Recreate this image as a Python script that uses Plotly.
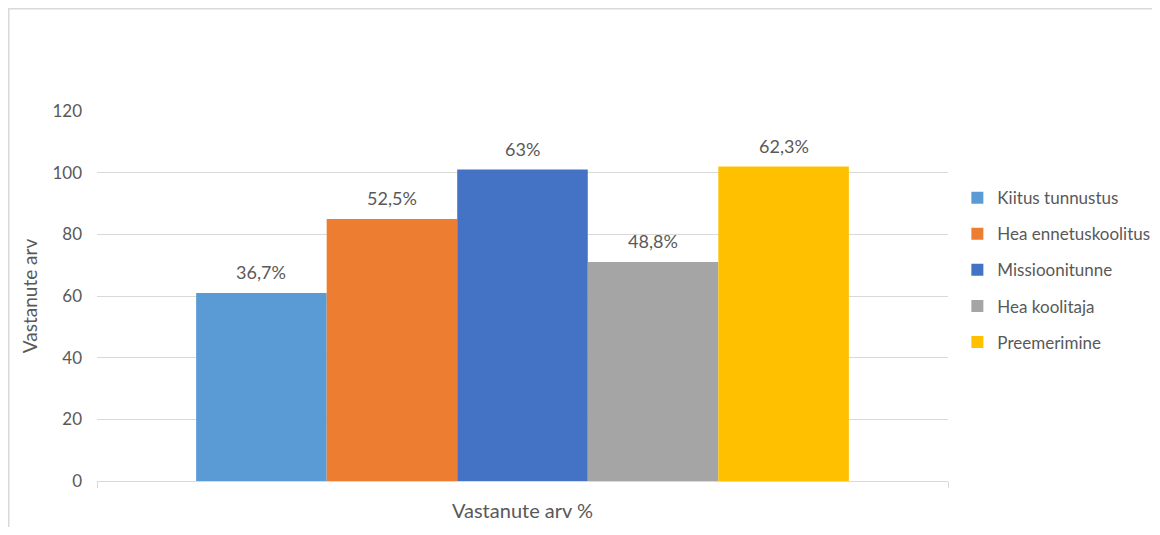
import plotly.graph_objects as go

category = ["Vastanute arv %"]
series_names = ["Kiitus tunnustus", "Hea ennetuskoolitus", "Missioonitunne", "Hea koolitaja", "Preemerimine"]
series_values = [61, 85, 101, 71, 102]
series_labels = ["36,7%", "52,5%", "63%", "48,8%", "62,3%"]
series_colors = ["#5B9BD5", "#ED7D31", "#4472C4", "#A5A5A5", "#FFC000"]
y_ticks = [0, 20, 40, 60, 80, 100, 120]

FONT = "Lato, Calibri, Arial, sans-serif"
TXT = "#595959"
GRID = "#d9d9d9"
BARGAP = 0.233

# figure geometry (page body has an 8px margin, so the figure is sized to fit the window)
FIG_W, FIG_H = 1152, 519
M_L, M_R, M_T, M_B = 89, 212, 103, 46
PLOT_W = FIG_W - M_L - M_R
PLOT_H = FIG_H - M_T - M_B

fig = go.Figure()
for i, (name, val, col) in enumerate(zip(series_names, series_values, series_colors)):
    fig.add_trace(go.Bar(
        x=category, y=[val], name=name,
        marker=dict(color=col, line=dict(width=0)),
        legendgroup=f"g{i}",
        hoverinfo="skip",
    ))

# data labels above bars
n = len(series_names)
w = (1 - BARGAP) / n
for i, (val, lab) in enumerate(zip(series_values, series_labels)):
    xc = -(1 - BARGAP) / 2 + w * (i + 0.5)
    fig.add_annotation(
        x=xc, y=val, xref="x", yref="y", text=lab, showarrow=False,
        yanchor="bottom", yshift=8,
        font=dict(family=FONT, size=18, color=TXT),
    )

# chart border (left and top visible, at the figure's top-left edge)
fig.add_shape(type="rect", xref="paper", yref="paper",
              x0=(0.75 - M_L) / PLOT_W, x1=2, y0=-1, y1=1 + (M_T - 0.75) / PLOT_H,
              line=dict(color=GRID, width=1.5), fillcolor="rgba(0,0,0,0)", layer="below")

fig.update_layout(
    width=FIG_W, height=FIG_H,
    margin=dict(l=M_L, r=M_R, t=M_T, b=M_B, autoexpand=False),
    paper_bgcolor="white", plot_bgcolor="white",
    barmode="group", bargap=BARGAP, bargroupgap=0,
    font=dict(family=FONT, size=17, color=TXT),
    showlegend=True,
    legend=dict(
        x=1.011, xanchor="left", y=0.57, yanchor="middle",
        font=dict(family=FONT, size=17, color=TXT),
        tracegroupgap=11, itemwidth=30,
        bgcolor="rgba(0,0,0,0)",
    ),
    xaxis=dict(
        type="category", showgrid=False, showline=True, linecolor=GRID, linewidth=1,
        ticks="outside", tickson="boundaries", ticklen=6, tickcolor=GRID,
        ticklabelstandoff=12, automargin=False,
        tickfont=dict(family=FONT, size=20, color=TXT),
        zeroline=False,
    ),
    yaxis=dict(
        range=[0, 120], tickvals=y_ticks, showgrid=True, gridcolor=GRID, gridwidth=1,
        zeroline=False, showline=False, ticks="", automargin=False,
        ticklabelstandoff=14,
        tickfont=dict(family=FONT, size=17, color=TXT),
        title=dict(text="Vastanute arv", standoff=9,
                   font=dict(family=FONT, size=19, color=TXT)),
    ),
)

fig.write_html("out.html")
